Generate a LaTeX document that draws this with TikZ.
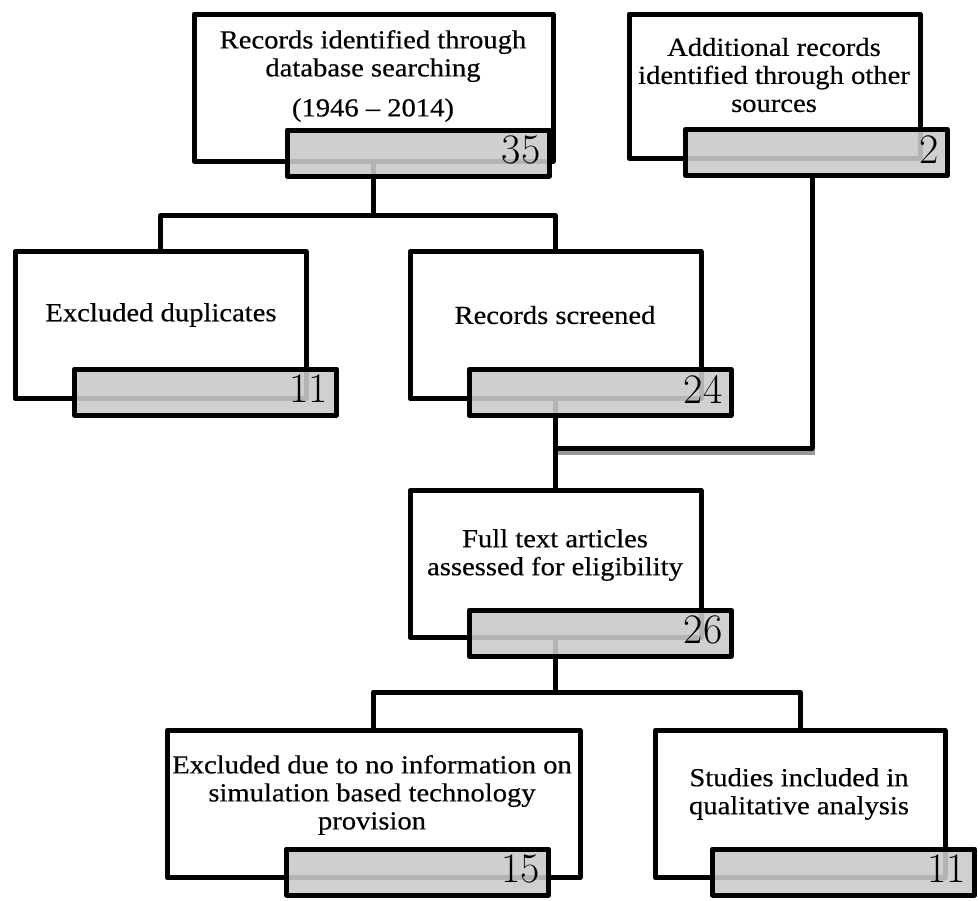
\documentclass[tikz,border=0pt]{standalone}
\usepackage{fontspec}
\newfontfamily\bodyfont[FakeStretch=1.1,FakeBold=0.4]{Liberation Serif}
\definecolor{gfill}{RGB}{202,202,202}
\begin{document}
\begin{tikzpicture}[x=1pt,y=-1pt,
  wbox/.style={draw, line width=5pt, fill=white, line join=round, inner sep=0pt, minimum height=147pt},
  gbox/.style={draw, line width=5pt, fill=gfill, fill opacity=0.89, line join=round, inner sep=0pt, minimum width=262pt, minimum height=46pt},
  txt/.style={font=\bodyfont\fontsize{26}{28}\selectfont, align=center, inner sep=0pt},
  num/.style={font=\fontsize{42}{42}\selectfont, anchor=base east, inner sep=0pt},
  conn/.style={line width=5pt, line join=round}]
\path[use as bounding box] (0,0) rectangle (980,900);
% white boxes
\node[wbox, minimum width=359pt] (b1) at (373.5,87.5) {};
\node[wbox, minimum width=291pt, minimum height=144pt] (b2) at (774.5,86) {};
\node[wbox, minimum width=291pt] (b3) at (160.5,325) {};
\node[wbox, minimum width=291pt] (b4) at (555.5,325) {};
\node[wbox, minimum width=291pt] (b5) at (555.5,564) {};
\node[wbox, minimum width=413pt] (b6) at (373.5,804) {};
\node[wbox, minimum width=290pt] (b7) at (800,804) {};
% texts
\node[txt] (t1) at (373,76) {Records identified through\\database searching\\[12pt](1946 – 2014)};
\node[txt] (t2) at (774,75) {Additional records\\identified through other\\sources};
\node[txt] (t3) at (161,315) {Excluded duplicates};
\node[txt] (t4) at (555,315) {Records screened};
\node[txt] (t5) at (555,555) {Full text articles\\assessed for eligibility};
\node[txt] (t6) at (372,795) {Excluded due to no information on\\simulation based technology\\provision};
\node[txt] (t7) at (799,794) {Studies included in\\qualitative analysis};
% connectors under gray boxes
\draw[conn] (b1.south) -- ++(0,52) coordinate (j1);
\draw[conn] (b3.north) |- (j1) -| (b4.north);
\coordinate (sl) at (553,452);
\coordinate (sr) at (815,452);
\draw[black!40, line width=5pt] (sl) -- (sr);
\draw[conn] (b4.south) -- (b5.north);
\draw[conn] (b5.south) -- ++(0,52) coordinate (j2);
\draw[conn] (b6.north) |- (j2) -| (b7.north);
% gray boxes
\node[gbox] (g1) at (418,153) {};
\node[gbox] (g2) at (816.5,152.5) {};
\node[gbox] (g3) at (205.5,392) {};
\node[gbox] (g4) at (600,392.5) {};
\node[gbox] (g5) at (600,633) {};
\node[gbox] (g6) at (417.5,872) {};
\node[gbox] (g7) at (843.5,872) {};
% right connector
\coordinate (r) at (812,448);
\draw[conn] (g2.south -| r) -- (r) -- (b4.south |- r);
% numbers
\node[num] (n1) at ([xshift=-11pt,yshift=-36pt]g1.north east) {35};
\node[num] (n2) at ([xshift=-11pt,yshift=-36pt]g2.north east) {2};
\node[num] (n3) at ([xshift=-11pt,yshift=-36pt]g3.north east) {11};
\node[num] (n4) at ([xshift=-11pt,yshift=-36pt]g4.north east) {24};
\node[num] (n5) at ([xshift=-11pt,yshift=-36pt]g5.north east) {26};
\node[num] (n6) at ([xshift=-11pt,yshift=-36pt]g6.north east) {15};
\node[num] (n7) at ([xshift=-11pt,yshift=-36pt]g7.north east) {11};
\end{tikzpicture}
\end{document}
